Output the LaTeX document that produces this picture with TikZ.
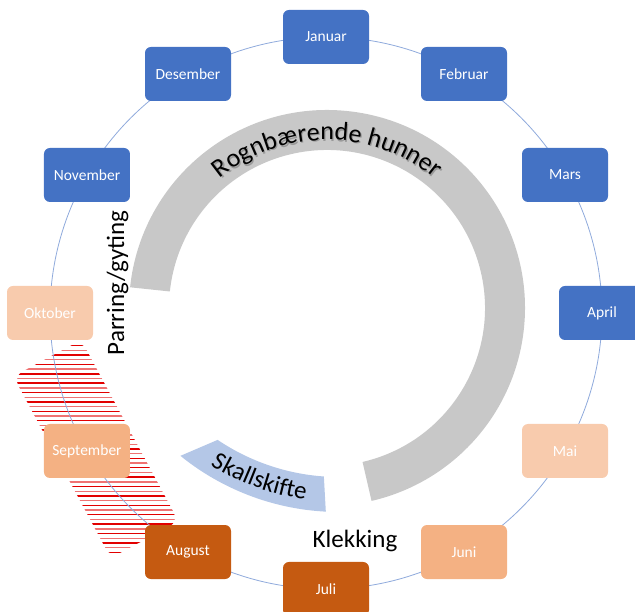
\documentclass[tikz,border=0pt]{standalone}
\usepackage{fontspec}
\setmainfont{Carlito}
\usetikzlibrary{decorations.text,backgrounds}
\definecolor{moblue}{HTML}{4472C4}
\definecolor{modark}{HTML}{C55A11}
\definecolor{momid}{HTML}{F4B183}
\definecolor{molight}{HTML}{F8CBAD}
\definecolor{ringblue}{HTML}{8FAADC}
\definecolor{roegray}{RGB}{200,200,200}
\definecolor{moltblue}{HTML}{B4C7E7}
\definecolor{hatchred}{RGB}{226,0,0}
\newcommand\bigtext{\fontsize{25}{30}\selectfont}
\newcommand\roetext{\fontsize{26}{31}\selectfont}

\begin{document}
\begin{tikzpicture}[x=1pt, y=1pt,
    month/.style={rectangle, rounded corners=6pt, minimum width=86pt, minimum height=54pt,
      text=white, font=\fontsize{15.5}{18}\selectfont},
    ring/.style={ringblue, line width=0.8pt},
    phase/.style={font=\bigtext, anchor=base}]
  \useasboundingbox (0,0) rectangle (635,612);
  \coordinate (ring) at (326,299);
  \coordinate (hub) at (327,304);
  \coordinate (hubs) at (328.2,302.5);
  \coordinate (shed) at (339,352);

  \foreach \i/\name/\col in {0/Januar/moblue, 1/Februar/moblue, 2/Mars/moblue, 3/April/moblue,
      4/Mai/molight, 5/Juni/momid, 6/Juli/modark, 7/August/modark, 8/September/momid,
      9/Oktober/molight, 10/November/moblue, 11/Desember/moblue}
    \node[month, fill=\col] (m\i) at ([shift={(90-30*\i:276)}]ring) {\name};

  \begin{pgfonlayer}{background}
    \begin{scope}[shift={(96,163)}, rotate=-61.8]
      \clip[rounded corners=10pt] (-103,-38.5) rectangle (103,38.5);
      \foreach \k in {-24,-22,...,24}
        \draw[hatchred, line width=1.4pt, rotate=61.8] (-130,{4.7*\k}) -- (130,{4.7*\k});
      \foreach \k in {-25,-23,...,25}
        \draw[hatchred!55, line width=1.4pt, rotate=61.8] (-130,{4.7*\k}) -- (130,{4.7*\k});
    \end{scope}
    \foreach \i in {0,...,11}
      \draw[ring] (m\i.center) arc[start angle=90-30*\i, delta angle=-30, radius=276];
  \end{pgfonlayer}

  \fill[roegray] ([shift={(174:198)}]hub) arc[start angle=174, end angle=-77, radius=198]
    -- ([shift={(-77:158)}]hub) arc[start angle=-77, end angle=174, radius=158] -- cycle;
  \path[decorate, decoration={text along path, text align=center, text color=black!40,
      text={|\roetext|Rognbærende hunner}}]
    ([shift={(140:168)}]hubs) arc[start angle=140, end angle=40, radius=168];
  \path[decorate, decoration={text along path, text align=center,
      text={|\roetext|Rognbærende hunner}}]
    ([shift={(140:168)}]hub) arc[start angle=140, end angle=40, radius=168];

  \fill[moltblue] ([shift={(236:217)}]shed) arc[start angle=236, end angle=266, radius=217]
    -- ([shift={(267:252)}]shed) arc[start angle=267, end angle=231, radius=252] -- cycle;
  \path[decorate, decoration={text along path, text align=center,
      text={|\bigtext|Skallskifte}}]
    ([shift={(232:242)}]shed) arc[start angle=232, end angle=268, radius=242];

  \node[phase, rotate=90] (mating) at (124,329) {Parring/gyting};
  \node[phase] (hatching) at (355,64) {Klekking};
\end{tikzpicture}
\end{document}
